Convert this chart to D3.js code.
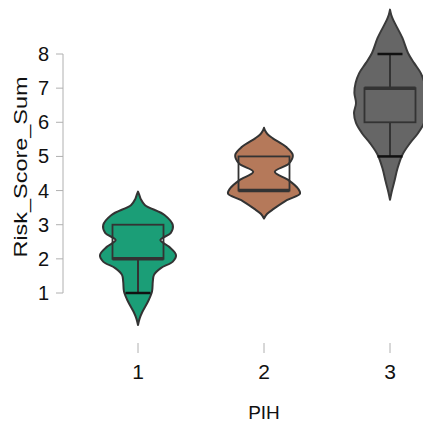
<!DOCTYPE html>
<html>
<head>
<meta charset="utf-8">
<script src="https://cdn.jsdelivr.net/npm/d3@7"></script>
<style>
  html, body { margin: 0; padding: 0; background: #fff; }
  svg { display: block; }
  text { font-family: "Liberation Sans", Arial, sans-serif; fill: #111; }
</style>
</head>
<body>
<svg id="chart" width="423" height="426"></svg>
<script>
// ---- data ----
const categories = ["1", "2", "3"];
const yTicks = [1, 2, 3, 4, 5, 6, 7, 8];
const colors = ["#1b9e77", "#b5795a", "#666666"];

// density profiles: [value, relative density]
const density1 = [[3.97,0],[3.88,0.03],[3.75,0.07],[3.58,0.17],[3.28,0.67],[2.99,0.87],[2.76,0.82],[2.55,0.56],[2.36,0.77],[2.11,0.95],[1.92,0.87],[1.73,0.57],[1.53,0.4],[1.33,0.37],[1.04,0.35],[0.75,0.25],[0.45,0.11],[0.25,0.04],[0.06,0]];
const density2 = [[5.84,0],[5.75,0.03],[5.65,0.09],[5.53,0.22],[5.28,0.55],[5.04,0.72],[4.79,0.62],[4.55,0.27],[4.30,0.62],[4.06,0.85],[3.91,0.9],[3.72,0.57],[3.47,0.25],[3.32,0.08],[3.18,0]];
const density3 = [[9.3,0],[9.15,0.03],[9.0,0.08],[8.86,0.14],[8.47,0.31],[8.03,0.45],[7.74,0.6],[7.44,0.77],[7.15,0.86],[6.86,0.89],[6.56,0.85],[6.27,0.9],[5.98,0.85],[5.68,0.7],[5.39,0.5],[5.05,0.31],[4.66,0.19],[4.27,0.11],[3.95,0.04],[3.73,0]];
const densities = [density1, density2, density3];

// box stats: [whiskerLow, q1, median, q3, whiskerHigh]
const boxStats = [
  [1, 2, 2, 3, 3],
  [4, 4, 4, 5, 5],
  [5, 6, 7, 7, 8]
];

// ---- drawing ----
const svg = d3.select("#chart");

const x = d3.scalePoint().domain(categories).range([138, 390]);
const y = d3.scaleLinear().domain([1, 8]).range([293, 54]);
const w = d3.scaleLinear().domain([0, 1]).range([0, 40]);
const boxHalf = 25.5, capHalf = 12.5;

// y axis
const axisColor = "#b0b0b0";
svg.append("line")
  .attr("x1", 63).attr("x2", 63)
  .attr("y1", y(8)).attr("y2", y(1))
  .attr("stroke", axisColor).attr("stroke-width", 1);
yTicks.forEach(t => {
  svg.append("line")
    .attr("x1", 56).attr("x2", 63)
    .attr("y1", y(t)).attr("y2", y(t))
    .attr("stroke", axisColor).attr("stroke-width", 1);
  svg.append("text")
    .attr("x", 49).attr("y", y(t) + 7)
    .attr("text-anchor", "end")
    .attr("font-size", 20)
    .text(t);
});

// x ticks
categories.forEach(c => {
  svg.append("line")
    .attr("x1", x(c)).attr("x2", x(c))
    .attr("y1", 343).attr("y2", 353)
    .attr("stroke", axisColor).attr("stroke-width", 1);
  svg.append("text")
    .attr("x", x(c)).attr("y", 379)
    .attr("text-anchor", "middle")
    .attr("font-size", 21)
    .text(c);
});

// axis titles
svg.append("text")
  .attr("x", 264).attr("y", 419)
  .attr("text-anchor", "middle")
  .attr("font-size", 19)
  .text("PIH");

svg.append("text")
  .attr("transform", "translate(27," + 167 + ") rotate(-90)")
  .attr("text-anchor", "middle")
  .attr("font-size", 18)
  .attr("textLength", 181)
  .attr("lengthAdjust", "spacingAndGlyphs")
  .text("Risk_Score_Sum");

// violins
categories.forEach((c, i) => {
  const cx = x(c);
  const area = d3.area()
    .y(d => y(d[0]))
    .x0(d => cx - w(d[1]))
    .x1(d => cx + w(d[1]))
    .curve(d3.curveCatmullRom.alpha(0.5));
  svg.append("path")
    .attr("d", area(densities[i]))
    .attr("fill", colors[i])
    .attr("stroke", i === 2 ? "#3a3a3a" : "#333")
    .attr("stroke-width", 2)
    .attr("stroke-linejoin", "round");

  const [lo, q1, med, q3, hi] = boxStats[i];
  // whiskers
  if (q1 > lo) {
    svg.append("line").attr("x1", cx).attr("x2", cx)
      .attr("y1", y(q1)).attr("y2", y(lo))
      .attr("stroke", "#333").attr("stroke-width", 2);
    svg.append("line").attr("x1", cx - capHalf).attr("x2", cx + capHalf)
      .attr("y1", y(lo)).attr("y2", y(lo))
      .attr("stroke", "#111").attr("stroke-width", 2.5);
  }
  if (hi > q3) {
    svg.append("line").attr("x1", cx).attr("x2", cx)
      .attr("y1", y(q3)).attr("y2", y(hi))
      .attr("stroke", "#333").attr("stroke-width", 2);
    svg.append("line").attr("x1", cx - capHalf).attr("x2", cx + capHalf)
      .attr("y1", y(hi)).attr("y2", y(hi))
      .attr("stroke", "#111").attr("stroke-width", 2.5);
  }
  // box
  svg.append("rect")
    .attr("x", cx - boxHalf).attr("y", y(q3))
    .attr("width", boxHalf * 2).attr("height", y(q1) - y(q3))
    .attr("fill", "none")
    .attr("stroke", "#333").attr("stroke-width", 1.8);
  // median
  svg.append("line")
    .attr("x1", cx - boxHalf).attr("x2", cx + boxHalf)
    .attr("y1", y(med)).attr("y2", y(med))
    .attr("stroke", "#333").attr("stroke-width", 3.5);
});
</script>
</body>
</html>
